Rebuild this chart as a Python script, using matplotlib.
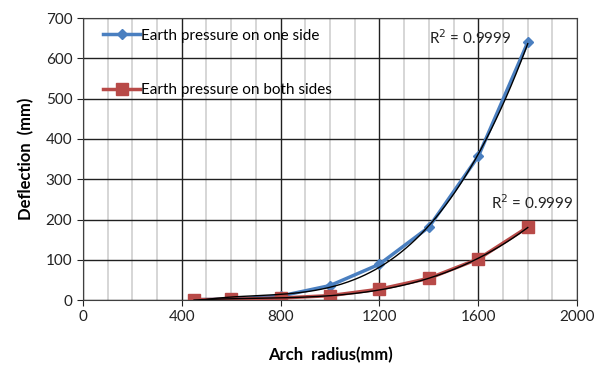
import numpy as np
import matplotlib.pyplot as plt

plt.rcParams['font.family'] = ['Lato', 'DejaVu Sans']

# arch radius (mm) and deflection (mm)
radius = [450, 600, 800, 1000, 1200, 1400, 1600, 1800]
one_side = [1, 2, 10, 36, 89, 181, 357, 640]
both_sides = [1, 2, 5, 11, 27, 54, 102, 181]

fig = plt.figure(figsize=(6, 3.7), dpi=100)
ax = fig.add_axes([0.138, 0.189, 0.824, 0.762])

ax.set_xlim(0, 2000)
ax.set_ylim(0, 700)
ax.set_xticks(np.arange(0, 2001, 400))
ax.set_xticks(np.arange(0, 2001, 100), minor=True)
ax.set_yticks(np.arange(0, 701, 100))
ax.grid(which='minor', axis='x', color='#d0d0d0', lw=1.2)
ax.grid(which='major', color='#202020', lw=1.0)
ax.tick_params(which='minor', length=0)
ax.tick_params(which='major', length=4, direction='out', labelsize=11, colors='#222222')
for s in ax.spines.values():
    s.set_color('#404040')
ax.set_axisbelow(True)

ax.plot(radius, one_side, color='#4a7fc0', lw=2.5, marker='D', ms=5,
        label='Earth pressure on one side')
ax.plot(radius, both_sides, color='#b84a48', lw=2.5, marker='s', ms=8,
        label='Earth pressure on both sides')

# polynomial trendlines
xs = np.linspace(radius[0], radius[-1], 200)
for ys in (one_side, both_sides):
    c = np.polyfit(radius, ys, 3)
    ax.plot(xs, np.polyval(c, xs), color='black', lw=1.0)

ax.text(1400, 652, 'R$^2$ = 0.9999', fontsize=11, va='center', color='#222222')
ax.text(1650, 242, 'R$^2$ = 0.9999', fontsize=11, va='center', color='#222222')

ax.legend(loc='upper left', frameon=False, fontsize=11, labelspacing=2.65,
          handlelength=2.4, handletextpad=0.05, borderaxespad=0.3,
          bbox_to_anchor=(0.02, 1.0))

ax.set_xlabel('Arch  radius(mm)', fontsize=12, fontweight='bold', labelpad=16)
ax.set_ylabel('Deflection  (mm)', fontsize=12, fontweight='bold', labelpad=8)

fig.savefig('out.png', dpi=100)
